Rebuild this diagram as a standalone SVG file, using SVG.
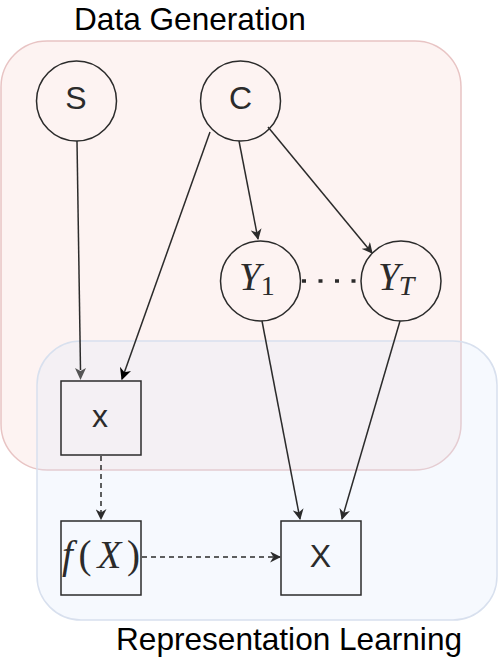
<svg xmlns="http://www.w3.org/2000/svg" width="498" height="662" viewBox="0 0 498 662">
<style>
.lbl{font-family:"Liberation Sans",Arial,sans-serif;font-size:31.6px;fill:#000}
.node{fill:none;stroke:#2b2b2b;stroke-width:1.5}
.t{font-family:"Liberation Sans",Arial,sans-serif;font-size:32px;fill:#2b2b2b;text-anchor:middle}
.m{font-family:"Liberation Serif","Times New Roman",serif;font-size:39px;fill:#2b2b2b;font-style:italic}
.e{fill:none;stroke:#2b2b2b;stroke-width:1.5}
.d{stroke-dasharray:5 4}
</style>
<defs>
<marker id="ah" viewBox="0 0 10 10" refX="9" refY="5" markerWidth="11" markerHeight="11" markerUnits="userSpaceOnUse" orient="auto">
<path d="M0,0 L10,5 L0,10 L3,5 Z" fill="#2b2b2b"/>
</marker>
<marker id="ahk" viewBox="0 0 10 10" refX="9" refY="5" markerWidth="12" markerHeight="12" markerUnits="userSpaceOnUse" orient="auto">
<path d="M0,0 L10,5 L0,10 L3,5 Z" fill="#000"/>
</marker>
</defs>
<g id="group-data">
<rect x="1" y="41" width="460" height="429" rx="46" fill="#f8d0cc" fill-opacity="0.25" stroke="#e8c4c4" stroke-width="1.5"/>
<text class="lbl" x="74" y="29.5">Data Generation</text>
</g>
<g id="group-repr">
<rect x="37" y="341" width="460" height="279" rx="44" fill="#dce8fa" fill-opacity="0.25" stroke="#d8e0ee" stroke-width="1.5"/>
<text class="lbl" x="116" y="650">Representation Learning</text>
</g>
<g id="connectors">
<line class="e" x1="77" y1="141" x2="80.5" y2="370" stroke="#555"/>
<line class="e" x1="210" y1="132" x2="122" y2="379" stroke="#000" marker-end="url(#ahk)"/>
<line class="e" x1="239" y1="141" x2="258" y2="239" marker-end="url(#ah)"/>
<line class="e" x1="268" y1="127" x2="372" y2="253" marker-end="url(#ah)"/>
<line class="e" x1="262" y1="321" x2="300" y2="519" marker-end="url(#ah)"/>
<line class="e" x1="400" y1="321" x2="342" y2="519" marker-end="url(#ah)"/>
<line class="e d" x1="101" y1="456" x2="101" y2="519" marker-end="url(#ah)"/>
<line class="e d" x1="142" y1="557" x2="280" y2="557" marker-end="url(#ah)"/>
<line x1="302" y1="281" x2="360" y2="281" stroke="#2b2b2b" stroke-width="3.5" stroke-dasharray="4 12.5"/>
<path d="M75,368 L80.5,380 L86,368 L80.5,371 Z" fill="#555"/>
</g>
<g id="node-S">
<circle class="node" cx="76.5" cy="101" r="40"/>
<text class="t" x="76" y="109">S</text>
</g>
<g id="node-C">
<circle class="node" cx="240.5" cy="101" r="40"/>
<text class="t" x="240.5" y="109">C</text>
</g>
<g id="node-Y1">
<circle class="node" cx="260.5" cy="281" r="40"/>
<text class="m" x="239" y="290">Y<tspan font-style="normal" font-size="28" dy="5">1</tspan></text>
</g>
<g id="node-YT">
<circle class="node" cx="401" cy="281" r="40"/>
<text class="m" x="378" y="290">Y<tspan font-size="28" dy="5" dx="-1">T</tspan></text>
</g>
<g id="node-x">
<rect class="node" x="61" y="381" width="80" height="74" stroke="#555"/>
<text class="t" x="100" y="427" fill="#555">x</text>
</g>
<g id="node-fX">
<rect class="node" x="61" y="521" width="80" height="74"/>
<text class="m" x="62" y="568" textLength="78" lengthAdjust="spacing">f<tspan font-style="normal">(</tspan>X<tspan font-style="normal">)</tspan></text>
</g>
<g id="node-X">
<rect class="node" x="281" y="521" width="80" height="74"/>
<text class="t" x="320.5" y="567">X</text>
</g>
</svg>
